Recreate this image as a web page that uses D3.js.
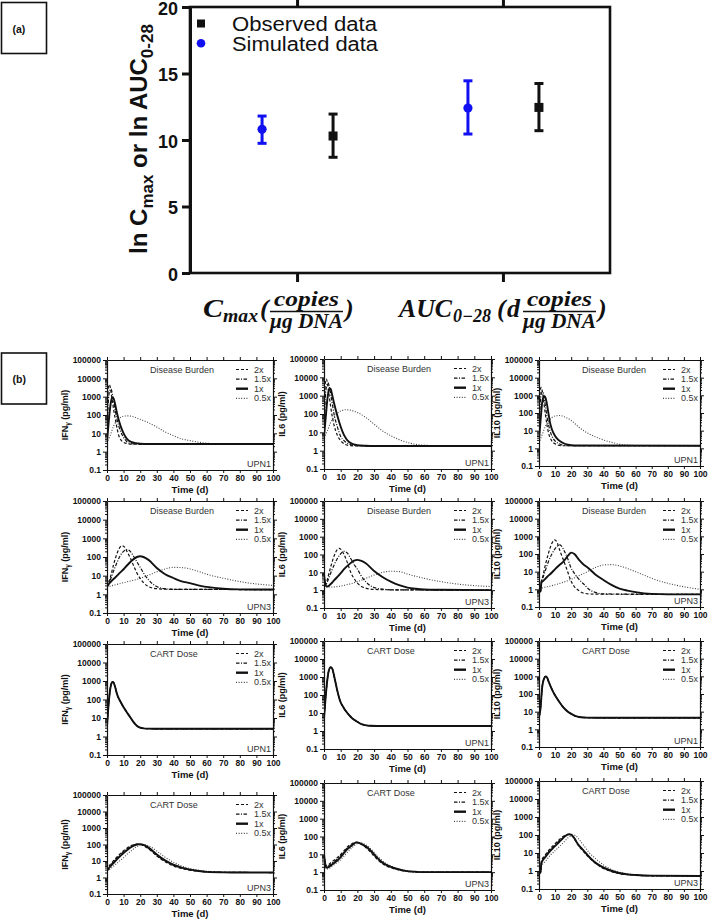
<!DOCTYPE html>
<html>
<head>
<meta charset="utf-8">
<script src="https://cdn.jsdelivr.net/npm/d3@7/dist/d3.min.js"></script>
<style>
html,body{margin:0;padding:0;background:#fff;}
svg{display:block;}
</style>
</head>
<body>
<svg id="chart" width="709" height="920"></svg>
<script>
// ================= DATA: panel (a) =================
const paramCategories = ["Cmax", "AUC"];
const simulatedMean = [10.8, 12.4];
const simulatedLow  = [9.75, 10.45];
const simulatedHigh = [11.8, 14.45];
const observedMean  = [10.3, 12.45];
const observedLow   = [8.7, 10.7];
const observedHigh  = [11.95, 14.25];
const panelAYTicks  = [0, 5, 10, 15, 20];
const legendLabels  = ["Observed data", "Simulated data"];

// ================= DATA: panel (b) =================
const timeTicks = [0,10,20,30,40,50,60,70,80,90,100];
const concTicks = [0.1,1,10,100,1000,10000,100000];
const scenarioLabels = ["2x","1.5x","1x","0.5x"];
const cytokineNames = ["IFN","IL6","IL10"];
const cytokineSubs  = ["γ","",""];
const rowTitles = ["Disease Burden","Disease Burden","CART Dose","CART Dose"];
const patientLabels = ["UPN1","UPN3","UPN1","UPN3"];

// Row 1: UPN1, disease burden  [time (d), concentration (pg/ml)]
const ifnB1_2x  = [[0,5],[0.5,1500],[1,4000],[1.5,4500],[2,3000],[3,800],[4,200],[5,60],[6,20],[7,8],[8,5],[10,3.2],[12,2.8],[15,2.6],[100,2.6]];
const ifnB1_15x = [[0,4],[1,1000],[2,2500],[2.5,2600],[3,1800],[4,550],[5,170],[6,60],[8,14],[10,6],[12,3.5],[15,2.7],[20,2.6],[100,2.6]];
const ifnB1_1x  = [[0,3.5],[1,40],[2,300],[3,850],[3.5,900],[4,780],[5,350],[6,130],[8,28],[10,10],[12,5],[15,3.3],[20,2.7],[25,2.6],[100,2.6]];
const ifnB1_05x = [[0,3],[2,8],[4,25],[6,50],[8,72],[10,86],[13,90],[16,80],[20,58],[25,38],[30,22],[35,12],[40,7.5],[45,5],[50,4],[55,3.3],[60,2.9],[70,2.6],[100,2.6]];

const il6B1_2x  = [[0,8],[0.5,2000],[1,7000],[1.5,8000],[2,5000],[3,1200],[4,250],[5,70],[6,25],[7,12],[8,7],[10,3.5],[12,2.4],[15,1.9],[20,1.8],[100,1.8]];
const il6B1_15x = [[0,7],[1,1500],[2,4500],[2.5,5000],[3,3500],[4,1200],[5,350],[6,100],[8,20],[10,6],[12,3.5],[15,2.3],[20,1.85],[100,1.8]];
const il6B1_1x  = [[0,6],[1,60],[2,600],[3,2200],[3.5,2500],[4,2300],[5,1000],[6,400],[8,80],[10,20],[12,7],[15,3],[20,2],[25,1.85],[30,1.8],[100,1.8]];
const il6B1_05x = [[0,5],[2,12],[4,35],[6,70],[8,110],[10,145],[13,170],[16,160],[20,120],[25,65],[30,28],[35,12],[40,6.5],[45,4],[50,2.8],[55,2.2],[60,2],[70,1.85],[100,1.8]];

const il10B1_2x  = [[0,3],[0.5,1000],[1,2500],[1.5,2800],[2,1800],[3,400],[4,80],[5,20],[6,7],[7,3.8],[8,2.6],[10,1.8],[12,1.5],[15,1.4],[100,1.4]];
const il10B1_15x = [[0,3],[1,700],[2,1600],[2.5,1500],[3,900],[4,250],[5,60],[6,20],[8,5],[10,2.6],[12,1.9],[15,1.5],[20,1.4],[100,1.4]];
const il10B1_1x  = [[0,3],[1,40],[2,400],[3,850],[3.5,900],[4,750],[5,300],[6,80],[7,25],[8,12],[10,5],[12,3],[15,2],[18,1.6],[22,1.45],[100,1.4]];
const il10B1_05x = [[0,2],[2,6],[4,18],[6,35],[8,55],[10,68],[13,72],[16,60],[20,38],[25,15],[30,7.5],[35,4.5],[40,3],[45,2.2],[50,1.7],[60,1.45],[100,1.4]];

// Row 2: UPN3, disease burden
const ifnB3_2x  = [[0,2.5],[2,8],[4,40],[6,150],[8,350],[9,400],[10,380],[12,200],[14,90],[16,35],[18,14],[20,7],[22,4.2],[25,2.6],[30,2],[40,1.85],[100,1.8]];
const ifnB3_15x = [[0,2.5],[2,6],[4,18],[6,50],[8,120],[10,200],[12,250],[14,200],[16,110],[18,55],[20,28],[22,14],[25,6],[30,2.6],[35,2],[40,1.85],[100,1.8]];
const ifnB3_1x  = [[0,2.5],[1,3.5],[3,5.5],[5,8],[8,15],[10,22],[12,35],[15,65],[18,100],[20,110],[22,100],[25,70],[30,26],[35,12],[40,7.5],[45,5],[50,4],[55,3],[60,2.5],[70,2],[80,1.85],[100,1.8]];
const ifnB3_05x = [[0,2.5],[10,4.2],[20,7.2],[30,16],[35,23],[40,28],[45,27],[50,23],[55,17],[60,12],[70,7.3],[80,4.8],[90,3.6],[100,3]];

const il6B3_2x  = [[0,8],[0.5,3],[1,2],[2,4],[4,20],[6,80],[8,190],[9,220],[10,200],[12,100],[14,35],[16,10],[18,4.5],[20,2.5],[22,1.7],[25,1.3],[30,1.1],[40,1.05],[100,1.0]];
const il6B3_15x = [[0,8],[0.5,3],[1,1.9],[2,3],[4,9],[6,25],[8,60],[10,110],[12,150],[14,120],[16,60],[18,28],[20,15],[22,7],[25,3],[30,1.4],[35,1.15],[40,1.05],[100,1.0]];
const il6B3_1x  = [[0,8],[0.5,3],[1,1.8],[2,1.6],[4,2.2],[6,3.5],[8,5.5],[10,9],[12,15],[15,28],[18,45],[20,50],[22,45],[25,32],[30,12],[35,5.5],[40,3],[45,1.9],[50,1.4],[55,1.2],[60,1.1],[70,1.05],[100,1.0]];
const il6B3_05x = [[0,8],[0.5,3],[1,1.6],[5,1.5],[10,1.7],[20,3],[30,7],[35,10],[40,11.5],[45,11],[50,8],[60,4.6],[70,3],[80,2.2],[90,1.8],[100,1.6]];

const il10B3_2x  = [[0,0.7],[1,0.9],[1.5,2.8],[2,4],[4,25],[6,120],[8,400],[9.6,630],[11,500],[13,150],[15,50],[17.5,12],[19.6,3.4],[22,1.4],[24,0.95],[28,0.6],[35,0.53],[100,0.52]];
const il10B3_15x = [[0,0.7],[1,0.85],[1.5,2.6],[2,3.5],[4,12],[6,40],[8,100],[10,200],[12.8,325],[14,280],[16,130],[18,50],[19.6,19],[22,8],[25,3.5],[28,1.9],[31,1],[34.5,0.7],[40,0.55],[100,0.52]];
const il10B3_1x  = [[0,0.7],[1,0.8],[1.5,2.5],[2,2.7],[5,5],[8,9],[10,14],[12,21],[15,36],[18,80],[20,120],[22,100],[25,45],[28,24],[30,18],[35,7],[40,3.4],[45,1.8],[50,1.1],[55,0.85],[60,0.7],[70,0.55],[80,0.52],[100,0.52]];
const il10B3_05x = [[0,0.7],[1,1.1],[5,1.4],[10,1.8],[15,2.5],[20,3.7],[25,6],[30,10],[35,17],[40,24],[45,25],[50,21],[55,15],[60,10],[65,6.5],[70,4.2],[80,2.2],[90,1.4],[100,1.0]];

// Row 3: UPN1, CART dose (all four doses overlap)
const ifnD1  = [[0,3.5],[1,60],[2,400],[3,850],[3.4,900],[4,800],[5,450],[6,200],[8,80],[10,38],[12,20],[14,11],[16,6],[18,3.8],[20,3],[22,2.75],[25,2.65],[30,2.6],[100,2.6]];
const il6D1  = [[0,5],[1,80],[2,700],[3,2500],[4,3500],[5,2800],[6,1200],[7,450],[8,170],[9.4,55],[12,18],[14.4,9],[17,5],[19.4,3.5],[22,2.5],[24,2.2],[28,1.95],[35,1.9],[100,1.9]];
const il10D1 = [[0,5],[0.85,13],[2,250],[3,700],[4.3,1000],[5,850],[6,500],[7,300],[9,120],[11,60],[13,32],[15,18],[17.4,11],[19.5,8],[21.7,6.2],[24,5.2],[26,4.8],[30,4.6],[40,4.5],[100,4.5]];

// Row 4: UPN3, CART dose
const ifnD3_2x  = [[0,2.5],[1,4.5],[3,8],[5,14],[8,28],[10,42],[12,60],[15,90],[18,105],[20,100],[22,85],[25,55],[30,20],[35,9],[40,5],[45,3.5],[50,2.8],[55,2.4],[60,2.2],[70,2.05],[100,2]];
const ifnD3_15x = [[0,2.5],[1,4],[3,7],[5,12],[8,24],[10,36],[12,52],[15,82],[18,103],[20,103],[22,90],[25,60],[30,22],[35,10],[40,5.5],[45,3.7],[50,2.9],[60,2.2],[70,2.05],[100,2]];
const ifnD3_1x  = [[0,2.5],[1,3.5],[3,6],[5,10],[8,20],[10,30],[12,45],[15,75],[18,100],[20,105],[22,95],[25,65],[30,25],[35,11],[40,6],[45,4],[50,3],[55,2.5],[60,2.2],[70,2.05],[80,2],[100,2]];
const ifnD3_05x = [[0,2.5],[1,2.8],[3,4],[5,6],[8,11],[10,16],[12,25],[15,45],[18,75],[20,90],[22,100],[25,85],[30,40],[35,17],[40,8.5],[45,5],[50,3.5],[55,2.8],[60,2.4],[70,2.1],[100,2]];

const il6D3_2x  = [[0,10],[0.7,3.5],[1.4,2.2],[3,2.8],[5,4],[8,6.5],[10,10],[12,16],[14,26],[16.5,38],[18,45],[19.6,47],[22,38],[25,24],[27,16],[30,8],[33,4.2],[36,2.6],[39,1.9],[44,1.4],[50,1.1],[60,1],[100,1]];
const il6D3_15x = [[0,10],[0.7,3.2],[1.4,2],[3,2.4],[5,3.4],[8,5.5],[10,8.5],[12,14],[14,23],[16.5,34],[18,43],[19.6,47],[22,39],[25,26],[27,18],[30,9],[33,4.6],[36,2.8],[39,2],[44,1.45],[50,1.12],[60,1],[100,1]];
const il6D3_1x  = [[0,10],[0.7,3],[1.4,1.8],[3,2],[5,2.8],[8,4.5],[10,7],[12,12],[14,20],[16.5,30],[18,40],[19.6,47],[22,40],[25,28],[27,20],[30,10],[33,5],[36,3],[39,2.2],[44,1.5],[49.5,1.15],[55,1.05],[60,1],[100,1]];
const il6D3_05x = [[0,10],[0.7,2.5],[1.4,1.5],[3,1.6],[5,2.2],[8,3.5],[10,5],[12,8],[14,13],[16.5,22],[18,30],[20,40],[21.5,46],[23,43],[25,34],[27,25],[30,13],[33,6.5],[36,3.6],[39,2.5],[44,1.6],[50,1.2],[55,1.07],[60,1.02],[100,1]];

const il10D3_2x  = [[0,0.7],[1,1.2],[1.5,3.5],[4,8],[7.3,19],[9,27],[11.5,45],[14,72],[16,95],[18,110],[19.5,105],[22,60],[24,30],[27,14],[30,7],[34,3.2],[38.7,1.6],[44,1],[49,0.75],[60,0.58],[70,0.54],[100,0.53]];
const il10D3_15x = [[0,0.7],[1,1.05],[1.5,3.1],[4,7],[7.3,16],[9,23],[11.5,39],[14,63],[16,88],[18.5,110],[20,102],[22,62],[24,31],[27,15],[30,7.5],[34,3.3],[38.7,1.7],[44,1.05],[49,0.78],[60,0.59],[70,0.54],[100,0.53]];
const il10D3_1x  = [[0,0.7],[1,0.9],[1.5,2.8],[4,6],[7.3,14],[9,20],[11.5,33],[14,55],[15.7,80],[18.8,110],[20,105],[22,65],[24,33],[27,16],[30,8],[34,3.5],[38.7,1.8],[44,1.1],[49,0.8],[55,0.65],[60,0.6],[70,0.55],[100,0.53]];
const il10D3_05x = [[0,0.7],[1,0.8],[1.5,1.8],[4,3.5],[7.3,8],[9,11],[11.5,18],[14,30],[16,45],[18,70],[20,90],[21.5,100],[23,90],[25,55],[28,25],[31,11],[35,5],[40,2.2],[45,1.2],[50,0.85],[55,0.7],[60,0.62],[70,0.56],[100,0.53]];

// series per panel: [row][col] -> [2x, 1.5x, 1x, 0.5x]
const panelSeries = [
  [[ifnB1_2x, ifnB1_15x, ifnB1_1x, ifnB1_05x], [il6B1_2x, il6B1_15x, il6B1_1x, il6B1_05x], [il10B1_2x, il10B1_15x, il10B1_1x, il10B1_05x]],
  [[ifnB3_2x, ifnB3_15x, ifnB3_1x, ifnB3_05x], [il6B3_2x, il6B3_15x, il6B3_1x, il6B3_05x], [il10B3_2x, il10B3_15x, il10B3_1x, il10B3_05x]],
  [[ifnD1, ifnD1, ifnD1, ifnD1], [il6D1, il6D1, il6D1, il6D1], [il10D1, il10D1, il10D1, il10D1]],
  [[ifnD3_2x, ifnD3_15x, ifnD3_1x, ifnD3_05x], [il6D3_2x, il6D3_15x, il6D3_1x, il6D3_05x], [il10D3_2x, il10D3_15x, il10D3_1x, il10D3_05x]]
];

// ================= LAYOUT =================
const SANS = "'Liberation Sans', Arial, Helvetica, sans-serif";
const SERIF = "'Liberation Serif', 'Times New Roman', serif";
const INK = "#111";
const BLUE = "#1010f2";

const colX = [[107,273],[324,491],[539,700]];
const rowY = [
  [[360,470],[359,469],[360,466]],
  [[501,613],[501,608],[501,607]],
  [[644,755],[641,749],[641,747]],
  [[795,894],[783,890],[781,889]]
];

const svg = d3.select("#chart");
svg.append("rect").attr("width",709).attr("height",920).attr("fill","#fff");

// ---- (a)/(b) label boxes
function labelBox(y0, lab){
  svg.append("rect").attr("x",1.5).attr("y",y0).attr("width",45).attr("height",51)
    .attr("fill","none").attr("stroke",INK).attr("stroke-width",1.6);
  svg.append("text").attr("x",12.5).attr("y",y0+30).attr("font-family",SANS)
    .attr("font-weight","bold").attr("font-size",10.5).attr("fill",INK).text(lab);
}
labelBox(2.5,"(a)");
labelBox(353,"(b)");

// ================= PANEL (a) =================
const aL=190, aR=610, aT=7, aB=273;
const gA = svg.append("g");
const yA = d3.scaleLinear().domain([0,20]).range([aB,aT]);
const xA = d3.scalePoint().domain(paramCategories).range([aL,aR]).padding(0.52);

gA.append("rect").attr("x",aL).attr("y",aT).attr("width",aR-aL).attr("height",aB-aT)
  .attr("fill","none").attr("stroke",INK).attr("stroke-width",2.6);

const axAL = gA.append("g").attr("transform",`translate(${aL},0)`)
  .call(d3.axisLeft(yA).tickValues(panelAYTicks).tickSize(8).tickSizeOuter(0).tickPadding(4));
axAL.select(".domain").attr("stroke",INK).attr("stroke-width",3);
axAL.selectAll(".tick line").attr("stroke",INK).attr("stroke-width",3);
axAL.selectAll("text").attr("font-family",SANS).attr("font-weight","bold").attr("font-size",18).attr("dy","0.4em").attr("fill",INK);

const axAB = gA.append("g").attr("transform",`translate(0,${aB})`)
  .call(d3.axisBottom(xA).tickSize(9).tickSizeOuter(0).tickFormat(""));
axAB.select(".domain").remove();
axAB.selectAll(".tick line").attr("stroke",INK).attr("stroke-width",3);
const axAT = gA.append("g").attr("transform",`translate(0,${aT})`)
  .call(d3.axisTop(xA).tickSize(7).tickSizeOuter(0).tickFormat(""));
axAT.select(".domain").remove();
axAT.selectAll(".tick line").attr("stroke",INK).attr("stroke-width",3);

function errBar(cx, lo, hi, color){
  gA.append("line").attr("x1",cx).attr("x2",cx).attr("y1",yA(lo)).attr("y2",yA(hi))
    .attr("stroke",color).attr("stroke-width",3);
  [lo,hi].forEach(v=>gA.append("line").attr("x1",cx-4.5).attr("x2",cx+4.5).attr("y1",yA(v)).attr("y2",yA(v))
    .attr("stroke",color).attr("stroke-width",3));
}
paramCategories.forEach((cat,i)=>{
  const cs = xA(cat) - 35, co = xA(cat) + 36;
  errBar(cs, simulatedLow[i], simulatedHigh[i], BLUE);
  gA.append("circle").attr("cx",cs).attr("cy",yA(simulatedMean[i])).attr("r",4.6).attr("fill",BLUE);
  errBar(co, observedLow[i], observedHigh[i], INK);
  gA.append("rect").attr("x",co-4.5).attr("y",yA(observedMean[i])-4.5).attr("width",9).attr("height",9).attr("fill",INK);
});

// legend
gA.append("rect").attr("x",197).attr("y",19.5).attr("width",8).attr("height",8).attr("fill",INK);
gA.append("text").attr("x",232).attr("y",30.5).attr("font-family",SANS).attr("font-size",20)
  .attr("textLength",145).attr("lengthAdjust","spacingAndGlyphs").attr("fill",INK).text(legendLabels[0]);
gA.append("circle").attr("cx",201).attr("cy",43.3).attr("r",4.3).attr("fill",BLUE);
gA.append("text").attr("x",232).attr("y",50.5).attr("font-family",SANS).attr("font-size",20)
  .attr("textLength",146).attr("lengthAdjust","spacingAndGlyphs").attr("fill",INK).text(legendLabels[1]);

// y title
const yt = gA.append("text").attr("transform","translate(147,139) rotate(-90)")
  .attr("text-anchor","middle").attr("font-family",SANS).attr("font-weight","bold")
  .attr("font-size",24).attr("fill",INK);
yt.append("tspan").text("ln C");
yt.append("tspan").attr("font-size",17).attr("dy",6).text("max");
yt.append("tspan").attr("dy",-6).text(" or ln AUC");
yt.append("tspan").attr("font-size",17).attr("dy",6).text("0-28");

// x math labels
function mt(x, y, s, size, opts={}){
  const t = gA.append("text").attr("x",x).attr("y",y).attr("font-family",SERIF)
    .attr("font-style","italic").attr("font-weight","bold").attr("font-size",size).attr("fill",INK).text(s);
  if(opts.anchor) t.attr("text-anchor",opts.anchor);
  if(opts.len) t.attr("textLength",opts.len).attr("lengthAdjust","spacingAndGlyphs");
  return t;
}
function fracAt(x0, x1){
  const cx = (x0+x1)/2;
  mt(cx, 306, "copies", 21, {anchor:"middle", len:(x1-x0)-8});
  gA.append("line").attr("x1",x0).attr("x2",x1).attr("y1",311.5).attr("y2",311.5).attr("stroke",INK).attr("stroke-width",1.4);
  mt(cx, 328, "μg DNA", 21, {anchor:"middle", len:(x1-x0)});
}
// C_max(copies / μg DNA)
mt(203, 317, "C", 26, {len:20});
mt(223, 322, "max", 18, {len:35});
mt(260, 317, "(", 26);
fracAt(270, 343);
mt(345, 317, ")", 26);
// AUC_0-28 (d copies / μg DNA)
mt(399, 317, "AUC", 26, {len:53});
mt(453, 322, "0−28", 18, {len:38});
mt(497, 317, "(", 26);
mt(507, 317, "d", 26);
fracAt(523, 596);
mt(598, 317, ")", 26);

// ================= PANEL (b) =================
const minorTicks = d3.range(-1,5).flatMap(e => d3.range(2,10).map(m => +(m*Math.pow(10,e)).toPrecision(3)));
const dashes = ["3,2", "3.5,1.5,1,1.5", null, "1,1.6"];
const widths = [1.2, 1.2, 1.9, 1.1];
const colors = [INK, INK, INK, "#444"];
const drawOrder = [3,1,0,2];

function styleAxis(ax, labels){
  ax.select(".domain").attr("stroke",INK).attr("stroke-width",1.2);
  ax.selectAll(".tick line").attr("stroke",INK).attr("stroke-width",1);
  if(labels) ax.selectAll("text").attr("font-family",SANS).attr("font-weight","bold").attr("font-size",8.5).attr("fill",INK);
}

for(let r=0;r<4;r++){
  for(let c=0;c<3;c++){
    const [L,R] = colX[c];
    const [T,B] = rowY[r][c];
    const x = d3.scaleLinear().domain([0,100]).range([L,R]);
    const y = d3.scaleLog().domain([0.1,100000]).range([B,T]);
    const g = svg.append("g");
    const cid = `clip${r}${c}`;
    svg.append("clipPath").attr("id",cid).append("rect").attr("x",L).attr("y",T-1).attr("width",R-L).attr("height",B-T+1);

    const line = d3.line().x(d=>x(d[0])).y(d=>y(d[1])).curve(d3.curveMonotoneX);
    drawOrder.forEach(k=>{
      const p = g.append("path").datum(panelSeries[r][c][k]).attr("d",line)
        .attr("fill","none").attr("stroke",colors[k]).attr("stroke-width",widths[k])
        .attr("stroke-linejoin","round").attr("clip-path",`url(#${cid})`);
      if(dashes[k]) p.attr("stroke-dasharray",dashes[k]);
    });

    // axes
    const axL = g.append("g").attr("transform",`translate(${L},0)`)
      .call(d3.axisLeft(y).tickValues(concTicks).tickSize(4).tickSizeOuter(0).tickPadding(2).tickFormat(d=>String(d)));
    styleAxis(axL,true);
    const axLm = g.append("g").attr("transform",`translate(${L},0)`)
      .call(d3.axisLeft(y).tickValues(minorTicks).tickSize(2).tickSizeOuter(0).tickFormat(""));
    axLm.select(".domain").remove(); styleAxis(axLm,false);
    const axR = g.append("g").attr("transform",`translate(${R},0)`)
      .call(d3.axisRight(y).tickValues(concTicks).tickSize(4).tickSizeOuter(0).tickFormat(""));
    styleAxis(axR,false);
    const axRm = g.append("g").attr("transform",`translate(${R},0)`)
      .call(d3.axisRight(y).tickValues(minorTicks).tickSize(2).tickSizeOuter(0).tickFormat(""));
    axRm.select(".domain").remove(); styleAxis(axRm,false);
    const axT = g.append("g").attr("transform",`translate(0,${T})`)
      .call(d3.axisTop(x).tickValues(timeTicks).tickSize(3).tickSizeOuter(0).tickFormat(""));
    styleAxis(axT,false);
    const axB = g.append("g").attr("transform",`translate(0,${B})`)
      .call(d3.axisBottom(x).tickValues(timeTicks).tickSize(3).tickSizeOuter(0).tickPadding(2));
    styleAxis(axB,true);

    // titles
    g.append("text").attr("x",(L+R)/2).attr("y",Math.min(B+23, 917)).attr("text-anchor","middle")
      .attr("font-family",SANS).attr("font-weight","bold").attr("font-size",9.5).attr("fill",INK).text("Time (d)");
    const yl = g.append("text").attr("transform",`translate(${L-39},${(T+B)/2}) rotate(-90)`)
      .attr("text-anchor","middle").attr("font-family",SANS).attr("font-weight","bold").attr("font-size",9).attr("fill",INK);
    yl.append("tspan").text(cytokineNames[c]);
    if(cytokineSubs[c]){
      yl.append("tspan").attr("font-size",6.5).attr("dy",2).text(cytokineSubs[c]);
      yl.append("tspan").attr("dy",-2).text(" (pg/ml)");
    } else {
      yl.append("tspan").text(" (pg/ml)");
    }

    // in-panel text
    g.append("text").attr("x",L+43).attr("y",T+13).attr("font-family",SANS).attr("font-size",9).attr("fill","#333").text(rowTitles[r]);
    g.append("text").attr("x",R-2).attr("y",B-3).attr("text-anchor","end").attr("font-family",SANS).attr("font-size",9).attr("fill","#333").text(patientLabels[r]);

    // legend
    scenarioLabels.forEach((lab,k)=>{
      const ly = T + 9.5 + k*9.6;
      const s = g.append("line").attr("x1",R-37).attr("x2",R-25).attr("y1",ly).attr("y2",ly)
        .attr("stroke",colors[k]).attr("stroke-width",k===2?2.4:1.2);
      if(dashes[k]) s.attr("stroke-dasharray",dashes[k]);
      g.append("text").attr("x",R-19).attr("y",ly+3).attr("font-family",SANS).attr("font-size",9).attr("fill","#333").text(lab);
    });
  }
}
</script>
</body>
</html>
